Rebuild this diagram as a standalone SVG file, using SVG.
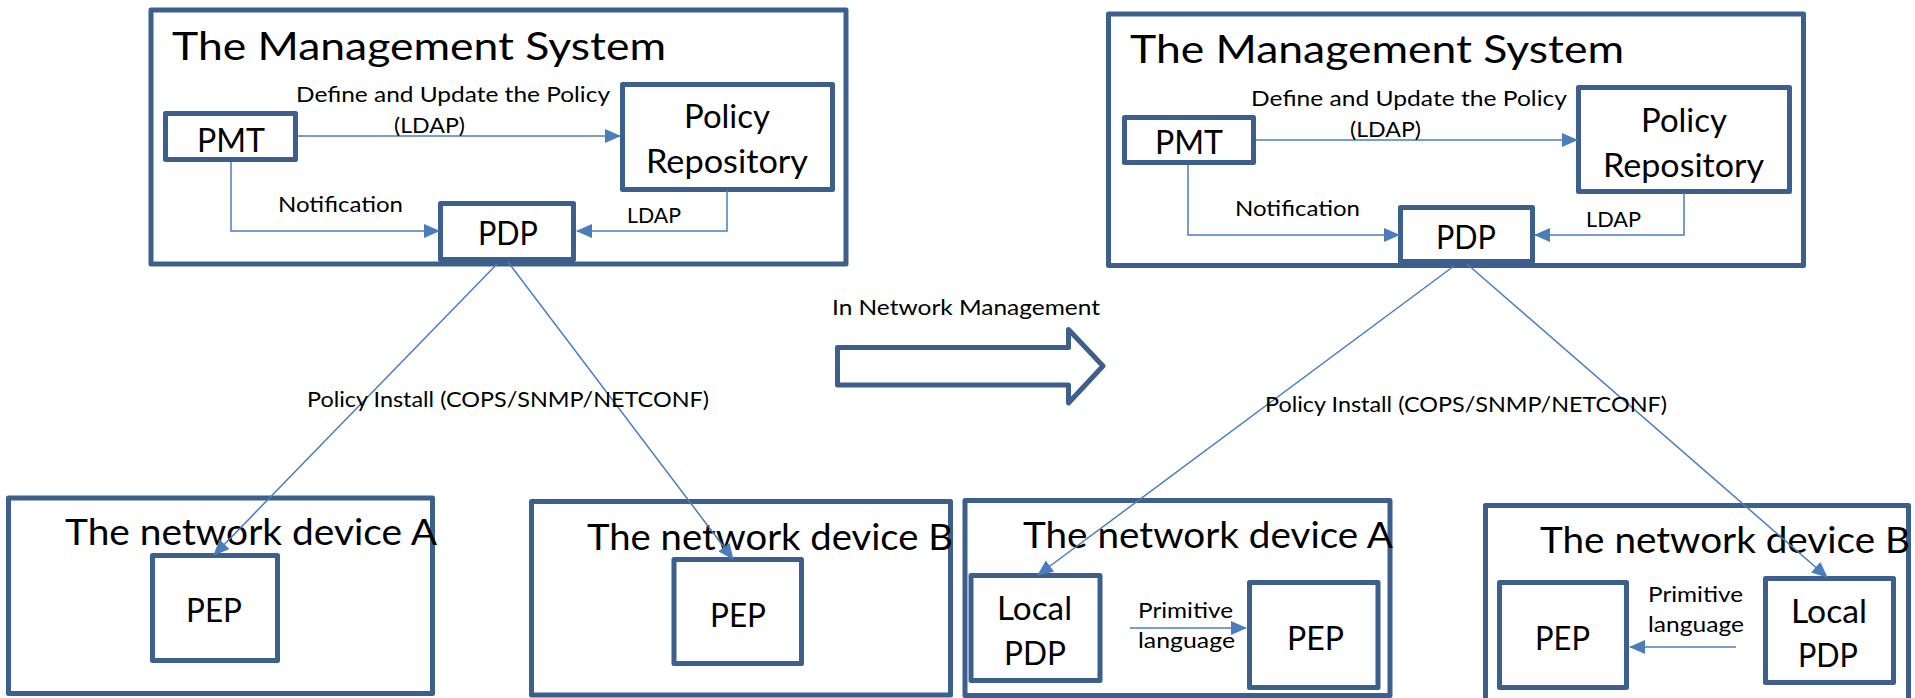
<svg xmlns="http://www.w3.org/2000/svg" width="1915" height="698" viewBox="0 0 1915 698">
  <style>
    .box { fill: #ffffff; stroke: #3d5f8c; stroke-width: 5; stroke-linejoin: round; }
    .link { fill: none; stroke: #4a7ebb; stroke-width: 1.5; }
    .arrowed { marker-end: url(#tri); }
    text { font-family: Lato, "Open Sans", "Liberation Sans", sans-serif; fill: #000000; }
    .title { font-size: 39px; }
    .dev { font-size: 37px; }
    .lbl { font-size: 32px; }
    .small { font-size: 22px; }
  </style>
  <defs>
    <marker id="tri" markerUnits="userSpaceOnUse" markerWidth="16" markerHeight="14" refX="15" refY="7" orient="auto">
      <path d="M0,0 L16,7 L0,14 z" fill="#4a7ebb"/>
    </marker>
  </defs>

  <!-- Left: centralised management -->
  <g id="mgmt-left">
    <rect class="box" x="151" y="10" width="695" height="254"/>
    <text class="title" x="172" y="60" textLength="494" lengthAdjust="spacingAndGlyphs">The Management System</text>
  </g>
  <g id="pmt-left">
    <rect class="box" x="165.5" y="113.5" width="130" height="46"/>
    <text class="lbl" x="197" y="152" textLength="68" lengthAdjust="spacingAndGlyphs">PMT</text>
  </g>
  <g id="repo-left">
    <rect class="box" x="622.5" y="84.5" width="210" height="105"/>
    <text class="lbl" x="684" y="128" textLength="86" lengthAdjust="spacingAndGlyphs">Policy</text>
    <text class="lbl" x="646" y="173" textLength="162" lengthAdjust="spacingAndGlyphs">Repository</text>
  </g>
  <g id="pdp-left">
    <rect class="box" x="440.5" y="203.5" width="133" height="56"/>
    <text class="lbl" x="478" y="245" textLength="60" lengthAdjust="spacingAndGlyphs">PDP</text>
  </g>
  <g id="device-a-left">
    <rect class="box" x="8.5" y="498" width="424" height="195.5"/>
    <rect class="box" x="152.5" y="555.5" width="125" height="105"/>
    <text class="lbl" x="186" y="622" textLength="56" lengthAdjust="spacingAndGlyphs">PEP</text>
    <text class="dev" x="65" y="545" textLength="372" lengthAdjust="spacingAndGlyphs">The network device A</text>
  </g>
  <g id="device-b-left">
    <rect class="box" x="531.5" y="501.5" width="419" height="193.5"/>
    <rect class="box" x="674" y="559.5" width="127.5" height="104"/>
    <text class="lbl" x="710" y="627" textLength="56" lengthAdjust="spacingAndGlyphs">PEP</text>
    <text class="dev" x="587" y="550" textLength="366" lengthAdjust="spacingAndGlyphs">The network device B</text>
  </g>

  <!-- Transition arrow -->
  <g id="transition">
    <polygon points="837.5,347.5 1068.5,347.5 1068.5,329.5 1103,366 1068.5,403 1068.5,385 837.5,385" fill="#ffffff" stroke="#3d5f8c" stroke-width="5" stroke-linejoin="round"/>
    <text class="small" x="832" y="315" textLength="268" lengthAdjust="spacingAndGlyphs">In Network Management</text>
  </g>

  <!-- Right: in-network management -->
  <g id="mgmt-right">
    <rect class="box" x="1108.5" y="14" width="695" height="251.5"/>
    <text class="title" x="1130" y="63" textLength="494" lengthAdjust="spacingAndGlyphs">The Management System</text>
  </g>
  <g id="pmt-right">
    <rect class="box" x="1124.5" y="117.5" width="129" height="45"/>
    <text class="lbl" x="1155" y="154" textLength="68" lengthAdjust="spacingAndGlyphs">PMT</text>
  </g>
  <g id="repo-right">
    <rect class="box" x="1578.5" y="87.5" width="211" height="104"/>
    <text class="lbl" x="1641" y="131.5" textLength="86" lengthAdjust="spacingAndGlyphs">Policy</text>
    <text class="lbl" x="1603" y="176.5" textLength="161" lengthAdjust="spacingAndGlyphs">Repository</text>
  </g>
  <g id="pdp-right">
    <rect class="box" x="1400.5" y="207.5" width="132" height="54"/>
    <text class="lbl" x="1436" y="249" textLength="60" lengthAdjust="spacingAndGlyphs">PDP</text>
  </g>
  <g id="device-a-right">
    <rect class="box" x="965" y="500.5" width="425" height="195"/>
    <rect class="box" x="971" y="575.5" width="129" height="105"/>
    <text class="lbl" x="997" y="620" textLength="75" lengthAdjust="spacingAndGlyphs">Local</text>
    <text class="lbl" x="1004" y="665" textLength="62" lengthAdjust="spacingAndGlyphs">PDP</text>
    <rect class="box" x="1249.5" y="582.5" width="128.5" height="105"/>
    <text class="lbl" x="1287" y="650" textLength="57" lengthAdjust="spacingAndGlyphs">PEP</text>
    <text class="dev" x="1023" y="548" textLength="370" lengthAdjust="spacingAndGlyphs">The network device A</text>
  </g>
  <g id="device-b-right">
    <rect class="box" x="1485.5" y="505.5" width="423" height="210"/>
    <rect class="box" x="1499.5" y="582.5" width="127" height="105"/>
    <text class="lbl" x="1535" y="650" textLength="55" lengthAdjust="spacingAndGlyphs">PEP</text>
    <rect class="box" x="1765.5" y="578.5" width="128" height="104"/>
    <text class="lbl" x="1791" y="623" textLength="76" lengthAdjust="spacingAndGlyphs">Local</text>
    <text class="lbl" x="1798" y="667" textLength="60" lengthAdjust="spacingAndGlyphs">PDP</text>
    <text class="dev" x="1540" y="553" textLength="370" lengthAdjust="spacingAndGlyphs">The network device B</text>
  </g>

  <!-- Connectors and their labels -->
  <g id="connectors">
    <!-- left side -->
    <line class="link arrowed" x1="298" y1="136" x2="620" y2="136"/>
    <path class="link arrowed" d="M231,162 V231 H439"/>
    <path class="link arrowed" d="M727,190 V231 H577"/>
    <line class="link arrowed" x1="497" y1="264" x2="214" y2="555"/>
    <line class="link arrowed" x1="508" y1="262" x2="733" y2="559"/>
    <text class="small" x="296" y="102" textLength="314" lengthAdjust="spacingAndGlyphs">Define and Update the Policy</text>
    <text class="small" x="394" y="133" textLength="71" lengthAdjust="spacingAndGlyphs">(LDAP)</text>
    <text class="small" x="278" y="212" textLength="125" lengthAdjust="spacingAndGlyphs">Notification</text>
    <text class="small" x="627" y="223" textLength="54" lengthAdjust="spacingAndGlyphs">LDAP</text>
    <text class="small" x="307" y="407" textLength="402" lengthAdjust="spacingAndGlyphs">Policy Install (COPS/SNMP/NETCONF)</text>

    <!-- right side -->
    <line class="link arrowed" x1="1256" y1="140" x2="1577" y2="140"/>
    <path class="link arrowed" d="M1188,165 V235 H1399"/>
    <path class="link arrowed" d="M1684,193 V235 H1535"/>
    <line class="link arrowed" x1="1454" y1="266" x2="1038" y2="575"/>
    <line class="link arrowed" x1="1467" y1="264" x2="1827" y2="577"/>
    <line class="link arrowed" x1="1130" y1="628" x2="1246" y2="628"/>
    <line class="link arrowed" x1="1736" y1="647" x2="1630" y2="647"/>
    <text class="small" x="1251" y="106" textLength="316" lengthAdjust="spacingAndGlyphs">Define and Update the Policy</text>
    <text class="small" x="1350" y="136.5" textLength="71" lengthAdjust="spacingAndGlyphs">(LDAP)</text>
    <text class="small" x="1235" y="216" textLength="125" lengthAdjust="spacingAndGlyphs">Notification</text>
    <text class="small" x="1586" y="227" textLength="55" lengthAdjust="spacingAndGlyphs">LDAP</text>
    <text class="small" x="1265" y="412" textLength="402" lengthAdjust="spacingAndGlyphs">Policy Install (COPS/SNMP/NETCONF)</text>
    <text class="small" x="1138" y="618" textLength="95" lengthAdjust="spacingAndGlyphs">Primitive</text>
    <text class="small" x="1138" y="648" textLength="97" lengthAdjust="spacingAndGlyphs">language</text>
    <text class="small" x="1648" y="602" textLength="95" lengthAdjust="spacingAndGlyphs">Primitive</text>
    <text class="small" x="1648" y="632" textLength="96" lengthAdjust="spacingAndGlyphs">language</text>
  </g>
</svg>
